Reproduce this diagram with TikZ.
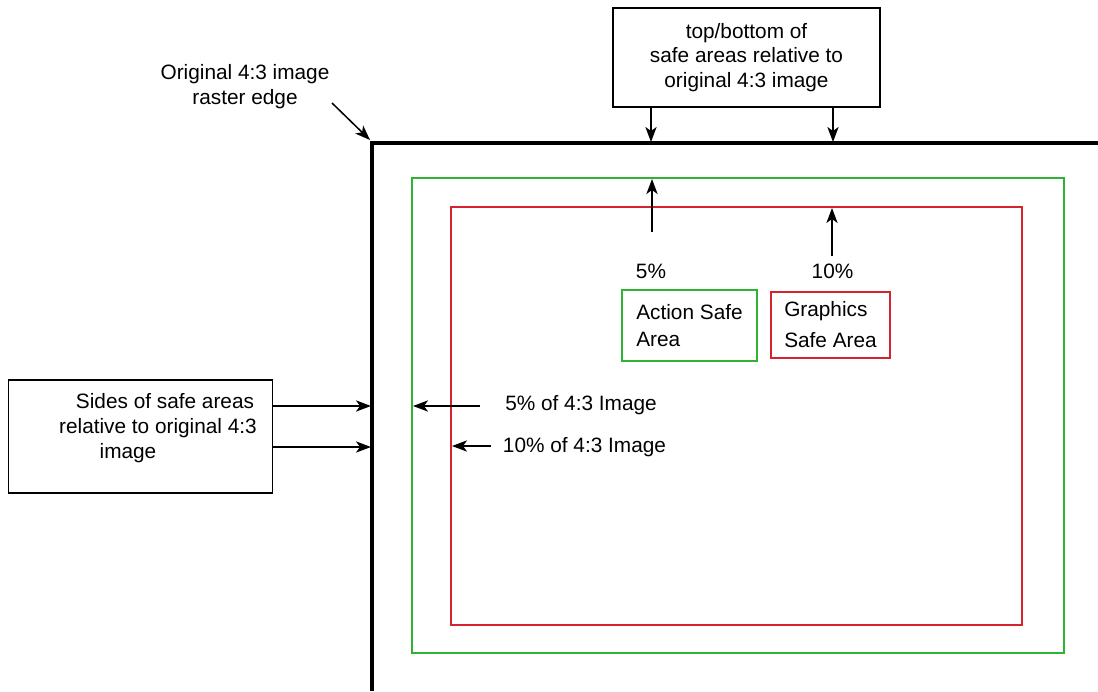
\documentclass[tikz,border=0pt]{standalone}
\usepackage{fontspec}
\setmainfont{Liberation Sans}
\usetikzlibrary{arrows.meta}
\definecolor{safegreen}{RGB}{45,180,50}
\definecolor{safered}{RGB}{215,35,45}

\begin{document}
\begin{tikzpicture}[x=0.5pt,y=-0.5pt,
  every node/.style={font=\fontsize{10.4}{12.3}\selectfont},
  arr/.style={-{Stealth[length=7.5pt,width=5.6pt,inset=2pt]},line width=0.75pt},
  box/.style={draw,line width=0.8pt,inner sep=0pt}]
\useasboundingbox (0,0) rectangle (1098,691);

% raster edge and the two safe areas
\draw [line width=1.8pt] (372,691) |- (1098,143);
\draw [safegreen,line width=1pt] (412,178) rectangle (1064,653);
\draw [safered,line width=1pt] (451,207) rectangle (1022,625);

\coordinate (topA) at (651,142);
\coordinate (topB) at (833,142);
\coordinate (sideA) at (371,406);
\coordinate (sideB) at (371,447);
\coordinate (corner) at (370,140);
\coordinate (greentop) at (652,179);
\coordinate (redtop) at (832,208);
\coordinate (greenside) at (413,406);
\coordinate (redside) at (452,446);

\node [box,minimum width=133.5pt,minimum height=49.5pt,align=center] (topnote) at (746.5,57.5)
  {top/bottom of\\safe areas relative to\\original 4:3 image};
\node [box,minimum width=132pt,minimum height=56.5pt,align=center,text depth=10.5pt] (sidenote) at (140.5,436.5)
  {\hspace*{24.5pt}Sides of safe areas\\\hspace*{17.5pt}relative to original 4:3\\image\hspace*{12.5pt}};
\node [align=center,font=\fontsize{10.4}{12.5}\selectfont] (rasternote) at (245,87) {Original 4:3 image\\raster edge};

\node [box,draw=safegreen,line width=1pt,minimum width=67.5pt,minimum height=35.5pt,align=left,
  font=\fontsize{10.4}{13.5}\selectfont] (action) at (689.5,325.5) {Action Safe\\Area};
\node [box,draw=safered,line width=1pt,minimum width=59.5pt,minimum height=33pt,align=left,
  font=\fontsize{10.4}{15.5}\selectfont] (graphics) at (830.5,325) {Graphics\\Safe Area};

\node (pctfive) at (651,271) {5\%};
\node (pctten) at (832.5,271) {10\%};
\node (fivelabel) at (581,405) {5\% of 4:3 Image};
\node (tenlabel) at (584.5,447) {10\% of 4:3 Image};

\draw [arr] (topnote.south -| topA) -- (topA);
\draw [arr] (topnote.south -| topB) -- (topB);
\draw [arr] (sidenote.east |- sideA) -- (sideA);
\draw [arr] (sidenote.east |- sideB) -- (sideB);
\draw [arr] (332,103) -- (corner);

\draw [arr] (652,232) -- (greentop);
\draw [arr] (832,256) -- (redtop);
\draw [arr] (480,406) -- (greenside);
\draw [arr] (491,446) -- (redside);

\end{tikzpicture}
\end{document}
